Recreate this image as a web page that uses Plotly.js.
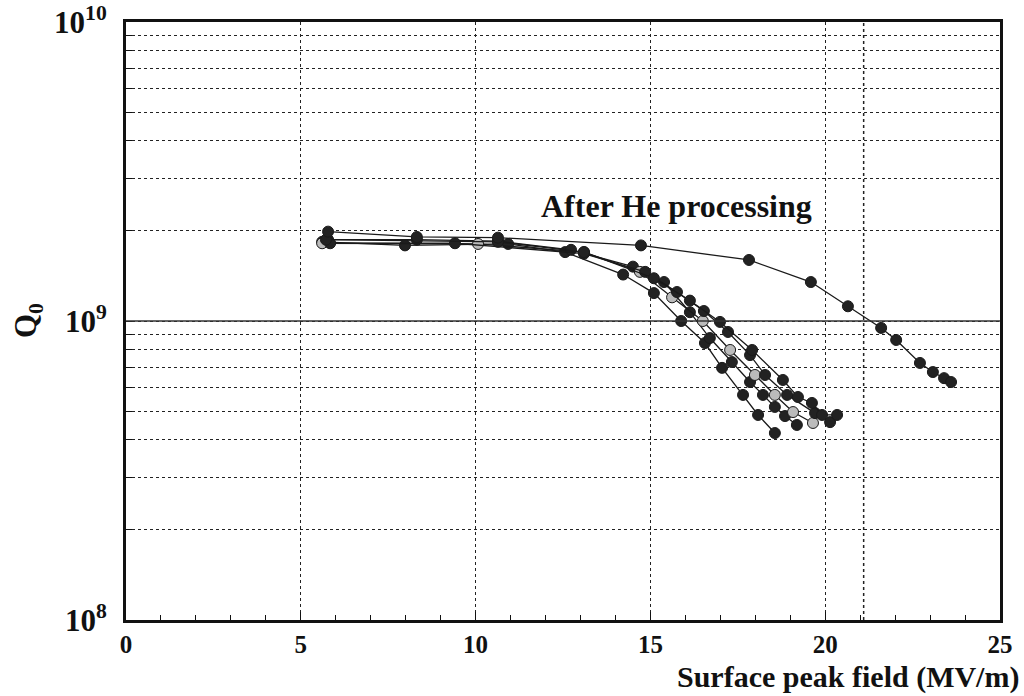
<!DOCTYPE html>
<html>
<head>
<meta charset="utf-8">
<script src="https://cdn.plot.ly/plotly-3.0.1.min.js"></script>
<style>html,body{margin:0;padding:0;background:#fff;}#chart{width:1024px;height:696px;}</style>
</head>
<body>
<div id="chart"></div>
<script>
// Surface peak field (MV/m) and Q0 for each measured run
const heX  = [5.78, 8.32, 10.64, 14.73, 17.82, 19.59, 20.65, 21.60, 22.03, 22.71, 23.08, 23.40, 23.60];
const heQ  = [1.99e9, 1.91e9, 1.90e9, 1.79e9, 1.60e9, 1.35e9, 1.12e9, 9.48e8, 8.64e8, 7.24e8, 6.75e8, 6.44e8, 6.25e8];

const run1X = [5.61, 7.98, 10.93, 12.56, 14.22, 15.10, 15.88, 16.56, 17.05, 17.65, 18.08, 18.56];
const run1Q = [1.84e9, 1.79e9, 1.81e9, 1.70e9, 1.43e9, 1.24e9, 1.00e9, 8.44e8, 6.97e8, 5.66e8, 4.85e8, 4.22e8];

const run2X = [5.78, 8.32, 10.64, 12.73, 14.50, 15.39, 16.13, 16.70, 17.33, 17.85, 18.22, 18.56, 18.85, 19.19];
const run2Q = [1.87e9, 1.87e9, 1.85e9, 1.73e9, 1.52e9, 1.35e9, 1.07e9, 8.77e8, 7.29e8, 6.25e8, 5.66e8, 5.16e8, 4.81e8, 4.49e8];

const run3X = [5.61, 10.07, 13.10, 14.70, 15.62, 16.50, 17.28, 17.99, 18.56, 19.08, 19.65];
const run3Q = [1.82e9, 1.81e9, 1.70e9, 1.46e9, 1.20e9, 1.00e9, 8.00e8, 6.60e8, 5.66e8, 4.96e8, 4.56e8];

const run4X = [5.84, 9.41, 13.10, 14.85, 15.76, 16.53, 17.22, 17.85, 18.28, 18.91, 19.71, 20.14];
const run4Q = [1.82e9, 1.82e9, 1.68e9, 1.46e9, 1.25e9, 1.08e9, 9.19e8, 7.69e8, 6.60e8, 5.66e8, 4.92e8, 4.59e8];

const run5X = [5.72, 10.64, 13.10, 15.10, 16.13, 16.99, 17.91, 18.79, 19.22, 19.62, 19.91, 20.34];
const run5Q = [1.87e9, 1.84e9, 1.70e9, 1.39e9, 1.17e9, 9.93e8, 8.00e8, 6.35e8, 5.57e8, 5.32e8, 4.85e8, 4.85e8];

const xTicks = [0, 5, 10, 15, 20, 25];
const yGridVals = [1e8,2e8,3e8,4e8,5e8,6e8,7e8,8e8,9e8,1e9,2e9,3e9,4e9,5e9,6e9,7e9,8e9,9e9,1e10];
const yDecades = {1e8: '10<sup>8</sup>', 1e9: '10<sup>9</sup>', 1e10: '10<sup>10</sup>'};
const yTickText = yGridVals.map(v => yDecades[v] || '');

const serif = 'Liberation Serif, Times New Roman, serif';

function run(x, y, fill) {
  return {
    x: x, y: y, type: 'scatter', mode: 'lines+markers',
    line: {color: '#1a1a1a', width: 1.3},
    marker: {size: 11, color: fill, line: {color: '#1a1a1a', width: 1}},
    showlegend: false, hoverinfo: 'x+y'
  };
}

const traces = [
  run(run1X, run1Q, '#222'),
  run(run2X, run2Q, '#222'),
  run(run3X, run3Q, '#bbb'),
  run(run4X, run4Q, '#222'),
  run(run5X, run5Q, '#222'),
  run(heX, heQ, '#222')
];

const layout = {
  width: 1024, height: 696,
  margin: {l: 126, r: 24, t: 22, b: 76},
  paper_bgcolor: '#fff', plot_bgcolor: '#fff',
  font: {family: serif, color: '#111'},
  xaxis: {
    range: [0, 25], tickvals: xTicks, ticktext: xTicks.map(String),
    showgrid: true, gridcolor: '#222', griddash: 'dot', gridwidth: 1,
    ticks: 'inside', ticklen: 8, tickcolor: '#111',
    minor: {dtick: 1, ticks: 'inside', ticklen: 5, tickcolor: '#111', showgrid: false},
    showline: true, linecolor: '#111', linewidth: 3, mirror: true,
    zeroline: false, ticklabelstandoff: 0,
    tickfont: {family: serif, size: 25, color: '#111', weight: 'bold'}
  },
  yaxis: {
    type: 'log', range: [8, 10], tickvals: yGridVals, ticktext: yTickText,
    showgrid: true, gridcolor: '#222', griddash: 'dot', gridwidth: 1,
    ticks: 'inside', ticklen: 6, tickcolor: '#111',
    showline: true, linecolor: '#111', linewidth: 3, mirror: true,
    zeroline: false, ticklabelstandoff: 10,
    tickfont: {family: serif, size: 31, color: '#111', weight: 'bold'}
  },
  shapes: [
    {type: 'line', xref: 'paper', yref: 'y', x0: 0, x1: 1, y0: 1e9, y1: 1e9,
     line: {color: '#333', width: 1.3}},
    {type: 'line', xref: 'x', yref: 'paper', x0: 21.1, x1: 21.1, y0: 0, y1: 1,
     line: {color: '#222', width: 1.5, dash: 'dot'}}
  ],
  annotations: [
    {text: 'After He processing', xref: 'x', yref: 'y', x: 15.76, y: Math.log10(2.43e9),
     showarrow: false, xanchor: 'center', yanchor: 'middle',
     font: {family: serif, size: 32, color: '#111', weight: 'bold'}},
    {text: 'Surface peak field (MV/m)', xref: 'paper', yref: 'paper', x: 1.024, y: -0.127,
     showarrow: false, xanchor: 'right', yanchor: 'bottom',
     font: {family: serif, size: 30, color: '#111', weight: 'bold'}},
    {text: 'Q<sub>0</sub>', xref: 'paper', yref: 'paper', x: -0.112, y: 0.5, textangle: -90,
     showarrow: false, xanchor: 'center', yanchor: 'middle',
     font: {family: serif, size: 31, color: '#111', weight: 'bold'}}
  ]
};

Plotly.newPlot('chart', traces, layout, {displayModeBar: false, staticPlot: true});
</script>
</body>
</html>
